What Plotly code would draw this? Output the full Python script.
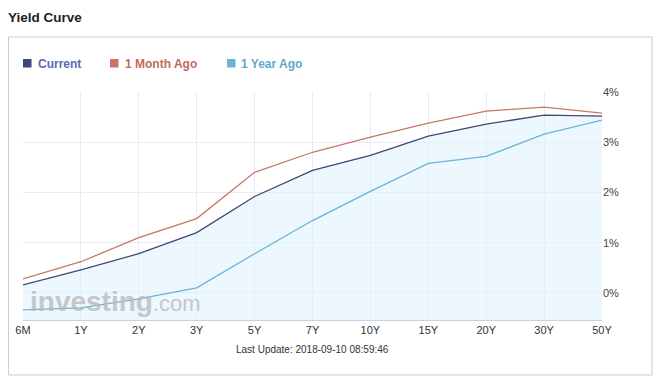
import plotly.graph_objects as go

maturities = ["6M", "1Y", "2Y", "3Y", "5Y", "7Y", "10Y", "15Y", "20Y", "30Y", "50Y"]
current = [0.16, 0.46, 0.78, 1.20, 1.92, 2.44, 2.74, 3.12, 3.36, 3.54, 3.52]
month_ago = [0.28, 0.62, 1.10, 1.48, 2.40, 2.80, 3.10, 3.38, 3.62, 3.70, 3.58]
year_ago = [-0.34, -0.30, -0.12, 0.10, 0.78, 1.44, 2.02, 2.58, 2.72, 3.16, 3.44]
series_names = ["Current", "1 Month Ago", "1 Year Ago"]
y_ticks = [0, 1, 2, 3, 4]
y_min, y_max = -0.54, 4.0

# page body has an 8px margin: figure occupies window pixels 8..663 / 8..388
OFF = 8
WIN_W, WIN_H = 663, 388
W, H = WIN_W - OFF, WIN_H - OFF
# plot area in window pixel coordinates
PL, PR, PT, PB = 23, 602, 92, 320
L, R, T, B = PL - OFF, W - (PR - OFF), PT - OFF, H - (PB - OFF)
pw, ph = W - L - R, H - T - B


def px_x(p):  # window pixel -> paper x
    return (p - OFF - L) / pw


def px_y(p):  # window pixel -> paper y
    return (H - B - (p - OFF)) / ph


FONT = "Arial, Liberation Sans, sans-serif"
c_cur, c_mon, c_yr = "#3d4778", "#c9756a", "#6cb4d7"
t_cur, t_mon, t_yr = "#5a68b3", "#c26a5e", "#5fa9cd"

fig = go.Figure()
# invisible baseline for the area fill
fig.add_trace(go.Scatter(x=maturities, y=[y_min] * len(maturities), mode="lines",
                         line=dict(width=0), showlegend=False, hoverinfo="skip"))
fig.add_trace(go.Scatter(x=maturities, y=current, mode="lines", fill="tonexty",
                         name=series_names[0],
                         fillcolor="rgba(225,242,253,0.6)",
                         line=dict(color=c_cur, width=1.3), showlegend=False))
fig.add_trace(go.Scatter(x=maturities, y=month_ago, mode="lines", name=series_names[1],
                         line=dict(color=c_mon, width=1.3), showlegend=False))
fig.add_trace(go.Scatter(x=maturities, y=year_ago, mode="lines", name=series_names[2],
                         line=dict(color=c_yr, width=1.3), showlegend=False))

# custom legend (square swatch + coloured bold label)
legend_pos = [(23, 37), (110, 124), (227, 240)]
shapes = [dict(type="rect", xref="paper", yref="paper",
               x0=px_x(8.5), x1=px_x(652), y0=px_y(375), y1=px_y(37),
               line=dict(color="#cccccc", width=1), fillcolor="rgba(0,0,0,0)",
               layer="below")]
annotations = []
for name, col, tcol, (sx, tx) in zip(series_names, [c_cur, c_mon, c_yr],
                                     [t_cur, t_mon, t_yr], legend_pos):
    shapes.append(dict(type="rect", xref="paper", yref="paper",
                       x0=px_x(sx), x1=px_x(sx + 8.5), y0=px_y(67.5), y1=px_y(59),
                       line=dict(width=0), fillcolor=col))
    annotations.append(dict(text=f"<b>{name}</b>", xref="paper", yref="paper",
                            x=px_x(tx - 1), y=px_y(63.5), xanchor="left", yanchor="middle",
                            showarrow=False, font=dict(size=12, color=tcol, family=FONT)))

annotations += [
    dict(text="<b>Yield Curve</b>", xref="paper", yref="paper",
         x=px_x(6), y=px_y(17), xanchor="left", yanchor="middle", showarrow=False,
         font=dict(size=13.5, color="#222", family=FONT)),
    dict(text="Last Update: 2018-09-10 08:59:46", xref="paper", yref="paper",
         x=px_x(312), y=px_y(349), xanchor="center", yanchor="middle", showarrow=False,
         font=dict(size=10, color="#333", family=FONT)),
    dict(text='<b>investing</b><span style="font-size:22px">.com</span>',
         xref="paper", yref="paper",
         x=px_x(28), y=px_y(301), xanchor="left", yanchor="middle", showarrow=False,
         font=dict(size=28, color="#b8b8b8", family=FONT), opacity=0.75),
]

fig.update_layout(
    width=W, height=H,
    margin=dict(l=L, r=R, t=T, b=B, autoexpand=False),
    paper_bgcolor="white", plot_bgcolor="white",
    font=dict(family=FONT, size=11, color="#333"),
    showlegend=False,
    xaxis=dict(type="category", range=[0, len(maturities) - 1],
               showgrid=True, gridcolor="#e6ebf5", gridwidth=1,
               showline=True, linecolor="#c5d3e3", linewidth=1,
               ticks="", tickfont=dict(size=11, color="#333"), zeroline=False),
    yaxis=dict(side="right", range=[y_min, y_max], tickvals=y_ticks,
               ticktext=[f"{v}%" for v in y_ticks],
               showgrid=True, gridcolor="#e6ebf5", gridwidth=1, zeroline=False,
               showline=False, ticks="", tickfont=dict(size=11, color="#444")),
    shapes=shapes,
    annotations=annotations,
)

fig.write_html("out.html")
